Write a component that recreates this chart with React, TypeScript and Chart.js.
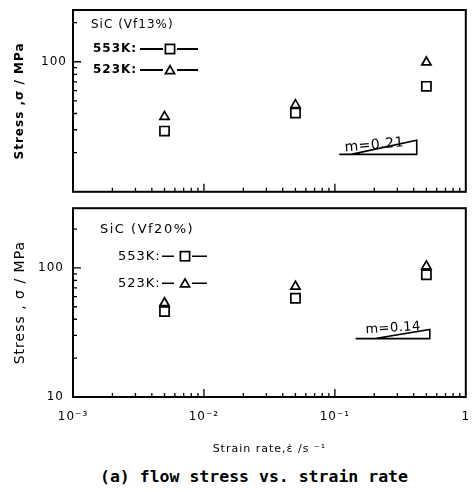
import React, { useEffect, useRef } from "react";
import { Chart, registerables } from "chart.js";

Chart.register(...registerables);

// ---------------- data ----------------
const strainRates = [0.005, 0.05, 0.5];
const vf13Stress553K = [29.3, 40.3, 64.7];
const vf13Stress523K = [37.8, 46.6, 99];
const vf20Stress553K = [45.9, 58.2, 88.5];
const vf20Stress523K = [53.4, 71.7, 103];

const xMajorTicks = [0.001, 0.01, 0.1, 1];
const xTickLabels = ["10⁻³", "10⁻²", "10⁻¹", "1"];
const xMinorTicks = [
  0.002, 0.003, 0.004, 0.005, 0.006, 0.007, 0.008, 0.009,
  0.02, 0.03, 0.04, 0.05, 0.06, 0.07, 0.08, 0.09,
  0.2, 0.3, 0.4, 0.5, 0.6, 0.7, 0.8, 0.9,
];
const yMajorTicks = [10, 100];
const yTickLabelsTop = ["", "100"];
const yTickLabelsBottom = ["10", "100"];
const yMinorTicks = [20, 30, 40, 50, 60, 70, 80, 90, 200];

const slopeVf13X = [0.108, 0.422, 0.422, 0.133];
const slopeVf13Y = [19.4, 19.4, 24.9, 19.4];
const slopeVf13Label = "m=0.21";
const slopeVf13LabelAt = [0.2, 22.8];

const slopeVf20X = [0.144, 0.531, 0.531, 0.198];
const slopeVf20Y = [28.3, 28.3, 33.3, 28.3];
const slopeVf20Label = "m=0.14";
const slopeVf20LabelAt = [0.279, 34.1];

const panelTitles = ["SiC (Vf13%)", "SiC (Vf20%)"];
const seriesNames = ["553K:", "523K:"];
const xTitle = "Strain rate,ε̇ /s ⁻¹";
const yTitles = ["Stress ,σ / MPa", "Stress , σ / MPa"];
const caption = "(a) flow stress vs. strain rate";

// ---------------- helpers ----------------
const FONT = '"DejaVu Sans", sans-serif';
const sameLog = (a: number, b: number) => Math.abs(Math.log10(a) - Math.log10(b)) < 1e-6;
const SQ_R = 6.5;
const TRI_R = 5.3;

function drawSquare(ctx: CanvasRenderingContext2D, cx: number, cy: number, r: number) {
  const s = Math.SQRT1_2 * r;
  ctx.strokeRect(cx - s, cy - s, 2 * s, 2 * s);
}
function drawTriangle(ctx: CanvasRenderingContext2D, cx: number, cy: number, r: number) {
  ctx.beginPath();
  ctx.moveTo(cx, cy - r);
  ctx.lineTo(cx + r * Math.sin((2 * Math.PI) / 3), cy + r / 2);
  ctx.lineTo(cx - r * Math.sin((2 * Math.PI) / 3), cy + r / 2);
  ctx.closePath();
  ctx.stroke();
}
function noPad(s: any) {
  s.paddingTop = 0;
  s.paddingBottom = 0;
  s.paddingLeft = 0;
  s.paddingRight = 0;
}

type PanelSpec = {
  id: string;
  s553: number[];
  s523: number[];
  slopeX: number[];
  slopeY: number[];
  slopeLabel: string;
  slopeLabelAt: number[];
  slopeAngle: number;
  slopeFont: string;
  yMax: number;
  yLabels: string[];
  yTitle: string;
  yTitleFont: { size: number; weight: string };
  yTitlePad: number;
  yTickPad: number;
  padTop: number;
  xAxisHeight: number;
  showX: boolean;
  legend: {
    header: string;
    headerFont: string;
    headerSpacing: string;
    headerDx: number;
    headerDy: number;
    rowFont: string;
    rowSpacing: string;
    textDx: number;
    rowDy: number[];
    lineA: number[];
    markerDx: number;
    lineB: number[];
    lineWidth: number;
  };
};

function buildChart(canvas: HTMLCanvasElement, p: PanelSpec) {
  const pts = (ys: number[]) => strainRates.map((x, i) => ({ x, y: ys[i] }));
  const plugin = {
    id: "panel-" + p.id,
    beforeDraw(chart: any) {
      chart.ctx.letterSpacing = "1px";
    },
    afterDatasetsDraw(chart: any) {
      const { ctx, scales } = chart;
      const px = scales.x.getPixelForValue(p.slopeLabelAt[0]);
      const py = scales.y.getPixelForValue(p.slopeLabelAt[1]);
      ctx.save();
      ctx.translate(px, py);
      ctx.rotate((p.slopeAngle * Math.PI) / 180);
      ctx.font = p.slopeFont;
      ctx.letterSpacing = "0.5px";
      ctx.fillStyle = "#000";
      ctx.textAlign = "center";
      ctx.textBaseline = "middle";
      ctx.fillText(p.slopeLabel, 0, 0);
      ctx.restore();
    },
    afterDraw(chart: any) {
      const { ctx, scales, chartArea: a } = chart;
      ctx.save();
      ctx.strokeStyle = "#000";
      ctx.lineWidth = 1.3;
      ctx.beginPath();
      for (const v of xMinorTicks) {
        const x = scales.x.getPixelForValue(v);
        ctx.moveTo(x, a.bottom);
        ctx.lineTo(x, a.bottom - 4);
      }
      for (const v of xMajorTicks) {
        const x = scales.x.getPixelForValue(v);
        if (x > a.left + 1 && x < a.right - 1) {
          ctx.moveTo(x, a.bottom);
          ctx.lineTo(x, a.bottom - 8);
        }
      }
      for (const v of yMinorTicks) {
        const y = scales.y.getPixelForValue(v);
        if (y > a.top + 1 && y < a.bottom - 1) {
          ctx.moveTo(a.left, y);
          ctx.lineTo(a.left + 4, y);
        }
      }
      for (const v of yMajorTicks) {
        const y = scales.y.getPixelForValue(v);
        if (y > a.top + 1 && y < a.bottom - 1) {
          ctx.moveTo(a.left, y);
          ctx.lineTo(a.left + 8, y);
        }
      }
      ctx.stroke();
      ctx.lineWidth = 2;
      ctx.strokeRect(a.left, a.top, a.right - a.left, a.bottom - a.top);

      // in-plot legend
      const L = p.legend;
      ctx.fillStyle = "#000";
      ctx.textBaseline = "middle";
      ctx.textAlign = "left";
      ctx.font = L.headerFont;
      ctx.letterSpacing = L.headerSpacing;
      ctx.fillText(L.header, a.left + L.headerDx, a.top + L.headerDy);
      ctx.font = L.rowFont;
      ctx.letterSpacing = L.rowSpacing;
      seriesNames.forEach((name, i) => {
        const y = a.top + L.rowDy[i];
        ctx.fillText(name, a.left + L.textDx, y);
        ctx.lineWidth = L.lineWidth;
        ctx.beginPath();
        ctx.moveTo(a.left + L.lineA[0], y);
        ctx.lineTo(a.left + L.lineA[1], y);
        ctx.moveTo(a.left + L.lineB[0], y);
        ctx.lineTo(a.left + L.lineB[1], y);
        ctx.stroke();
        ctx.lineWidth = 1.7;
        if (i === 0) drawSquare(ctx, a.left + L.markerDx, y, SQ_R);
        else drawTriangle(ctx, a.left + L.markerDx, y + 1, TRI_R);
      });
      ctx.restore();
    },
  };

  return new Chart(canvas, {
    type: "scatter",
    data: {
      datasets: [
        {
          label: "553K",
          data: pts(p.s553),
          pointStyle: "rect",
          pointRadius: SQ_R,
          borderColor: "#000",
          backgroundColor: "rgba(0,0,0,0)",
          borderWidth: 1.7,
        },
        {
          label: "523K",
          data: pts(p.s523),
          pointStyle: "triangle",
          pointRadius: TRI_R,
          borderColor: "#000",
          backgroundColor: "rgba(0,0,0,0)",
          borderWidth: 1.7,
        },
        {
          label: "slope",
          data: p.slopeX.map((x, i) => ({ x, y: p.slopeY[i] })),
          showLine: true,
          pointRadius: 0,
          borderColor: "#000",
          borderWidth: 1.6,
          tension: 0,
          fill: false,
        } as any,
      ],
    },
    options: {
      responsive: false,
      animation: false,
      events: [],
      layout: { padding: { top: p.padTop, right: 1, left: 0, bottom: 0 } },
      plugins: {
        legend: { display: false },
        tooltip: { enabled: false },
        title: { display: false },
      },
      scales: {
        x: {
          type: "logarithmic",
          position: "bottom",
          min: 0.001,
          max: 1,
          grid: { display: false, drawTicks: false },
          border: { display: false },
          ticks: {
            display: p.showX,
            autoSkip: false,
            maxRotation: 0,
            minRotation: 0,
            padding: 13,
            color: "#000",
            font: { family: FONT, size: 12 },
            callback: (v: any) => {
              const i = xMajorTicks.findIndex((m) => sameLog(m, Number(v)));
              return i >= 0 ? xTickLabels[i] : "";
            },
          },
          title: {
            display: p.showX,
            text: xTitle,
            color: "#000",
            font: { family: FONT, size: 11 },
            padding: { top: 0, bottom: 4.4 },
          },
          afterFit: (s: any) => {
            s.height = p.xAxisHeight;
            noPad(s);
          },
        },
        y: {
          type: "logarithmic",
          position: "left",
          min: 10,
          max: p.yMax,
          grid: { display: false, drawTicks: false },
          border: { display: false },
          ticks: {
            autoSkip: false,
            padding: p.yTickPad,
            color: "#000",
            font: { family: FONT, size: 12 },
            callback: (v: any) => {
              const i = yMajorTicks.findIndex((m) => sameLog(m, Number(v)));
              return i >= 0 ? p.yLabels[i] : "";
            },
          },
          title: {
            display: true,
            text: p.yTitle,
            color: "#000",
            font: { family: FONT, size: p.yTitleFont.size, weight: p.yTitleFont.weight as any },
            padding: { top: p.yTitlePad, bottom: 0 },
          },
          afterFit: (s: any) => {
            s.width = 73;
            noPad(s);
          },
        },
      },
    } as any,
    plugins: [plugin as any],
  });
}

const topPanel: PanelSpec = {
  id: "vf13",
  s553: vf13Stress553K,
  s523: vf13Stress523K,
  slopeX: slopeVf13X,
  slopeY: slopeVf13Y,
  slopeLabel: slopeVf13Label,
  slopeLabelAt: slopeVf13LabelAt,
  slopeAngle: -5,
  slopeFont: `14px ${FONT}`,
  yMax: 250,
  yLabels: yTickLabelsTop,
  yTitle: yTitles[0],
  yTitleFont: { size: 12, weight: "bold" },
  yTitlePad: 13,
  yTickPad: 6,
  padTop: 10,
  xAxisHeight: 6,
  showX: false,
  legend: {
    header: panelTitles[0],
    headerFont: `12px ${FONT}`,
    headerSpacing: "1px",
    headerDx: 18,
    headerDy: 15,
    rowFont: `bold 12px ${FONT}`,
    rowSpacing: "1px",
    textDx: 20,
    rowDy: [39, 60],
    lineA: [67, 90],
    markerDx: 97,
    lineB: [104, 125],
    lineWidth: 2,
  },
};

const bottomPanel: PanelSpec = {
  id: "vf20",
  s553: vf20Stress553K,
  s523: vf20Stress523K,
  slopeX: slopeVf20X,
  slopeY: slopeVf20Y,
  slopeLabel: slopeVf20Label,
  slopeLabelAt: slopeVf20LabelAt,
  slopeAngle: -3.5,
  slopeFont: `13px ${FONT}`,
  yMax: 290,
  yLabels: yTickLabelsBottom,
  yTitle: yTitles[1],
  yTitleFont: { size: 14, weight: "normal" },
  yTitlePad: 11.6,
  yTickPad: 9,
  padTop: 2,
  xAxisHeight: 63,
  showX: true,
  legend: {
    header: panelTitles[1],
    headerFont: `13px ${FONT}`,
    headerSpacing: "1.5px",
    headerDx: 27,
    headerDy: 21,
    rowFont: `13px ${FONT}`,
    rowSpacing: "1px",
    textDx: 45,
    rowDy: [48, 75],
    lineA: [89, 101],
    markerDx: 112,
    lineB: [119, 134],
    lineWidth: 1.6,
  },
};

export default function App() {
  const topRef = useRef<HTMLCanvasElement | null>(null);
  const bottomRef = useRef<HTMLCanvasElement | null>(null);

  useEffect(() => {
    if (!topRef.current || !bottomRef.current) return;
    const c1 = buildChart(topRef.current, topPanel);
    const c2 = buildChart(bottomRef.current, bottomPanel);
    return () => {
      c1.destroy();
      c2.destroy();
    };
  }, []);

  return (
    <div
      style={{
        position: "absolute",
        left: 0,
        top: 0,
        width: 474,
        height: 492,
        background: "#fff",
        overflow: "hidden",
      }}
    >
      <canvas ref={topRef} width={474} height={200} style={{ position: "absolute", left: 0, top: 0 }} />
      <canvas ref={bottomRef} width={474} height={260} style={{ position: "absolute", left: 0, top: 200 }} />
      <div
        style={{
          position: "absolute",
          left: 100,
          top: 467,
          lineHeight: "20px",
          fontFamily: '"DejaVu Sans Mono", monospace',
          fontSize: "16.5px",
          fontWeight: "bold",
          color: "#000",
          whiteSpace: "pre",
        }}
      >
        {caption}
      </div>
    </div>
  );
}
